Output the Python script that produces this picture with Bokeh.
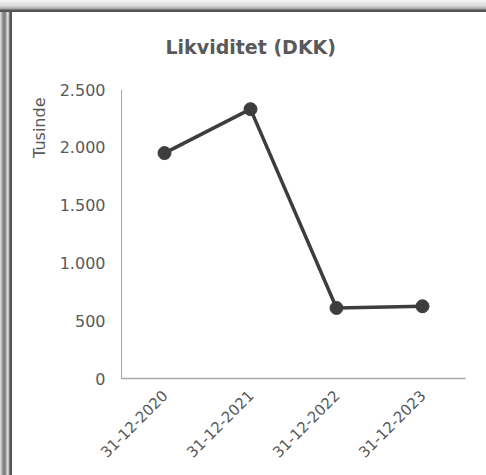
from math import pi
from bokeh.plotting import figure
from bokeh.models import Title, FactorRange, Range1d, CustomJSTickFormatter, FixedTicker
from bokeh.embed import file_html
from bokeh.resources import INLINE

# ---- data ----
categories = ["31-12-2020", "31-12-2021", "31-12-2022", "31-12-2023"]
values = [1950, 2330, 610, 625]
y_ticks = [0, 500, 1000, 1500, 2000, 2500]
title_text = "Likviditet (DKK)"
unit_label = "Tusinde"

FONT = "DejaVu Sans"
DARK = "#3d3d3d"
GREY = "#595959"

p = figure(
    width=486, height=475,
    x_range=FactorRange(*categories, range_padding=0),
    y_range=Range1d(0, 2500),
    output_backend="svg", toolbar_location=None,
    min_border_left=121, min_border_right=21, min_border_top=89, min_border_bottom=97,
)
p.styles = {
    "background-color": "white",
    "background-image": (
        "linear-gradient(to bottom, #f6f6f6 0px, #d9d9d9 6px, #a0a0a0 9px, #555 10px, #555 12px, rgba(255,255,255,0) 12px),"
        "linear-gradient(to right, #e8e8e8 0px, #8a8a8a 3px, #7a7a7a 5px, #cfcfcf 7px, #e6e6e6 8px, #555 10px, #555 12px, rgba(255,255,255,0) 12px)"
    ),
    "background-size": "100% 12px, 13px 100%",
    "background-repeat": "no-repeat",
}
p.border_fill_alpha = 0
p.background_fill_alpha = 0
p.outline_line_color = None
p.grid.visible = False

# title
p.title = Title(text=title_text, align="left", offset=44, standoff=64,
                text_font=FONT, text_font_size="19px", text_font_style="bold", text_color=GREY)

# unit label as a left-side title near the top
p.add_layout(Title(text=unit_label, align="right", offset=8, standoff=16,
                   text_font=FONT, text_font_size="16px", text_font_style="normal", text_color=GREY), "left")

# axes
p.yaxis.ticker = FixedTicker(ticks=y_ticks)
p.yaxis.formatter = CustomJSTickFormatter(code="return tick.toString().replace(/\\B(?=(\\d{3})+(?!\\d))/g, '.');")
p.yaxis.axis_line_color = "#a6a6a6"
p.yaxis.axis_line_width = 1
p.yaxis.major_tick_line_color = None
p.yaxis.minor_tick_line_color = None
p.yaxis.major_label_standoff = 10
p.yaxis.major_label_text_font = FONT
p.yaxis.major_label_text_font_size = "16px"
p.yaxis.major_label_text_color = GREY

p.xaxis.axis_line_color = "#a6a6a6"
p.xaxis.axis_line_width = 1.5
p.xaxis.major_tick_line_color = None
p.xaxis.minor_tick_line_color = None
p.xaxis.major_label_orientation = pi / 4
p.xaxis.major_label_standoff = 8
p.xaxis.major_label_text_font = FONT
p.xaxis.major_label_text_font_size = "15px"
p.xaxis.major_label_text_color = GREY

# series
p.line(categories, values, line_color=DARK, line_width=3.5)
p.scatter(categories, values, size=13, fill_color=DARK, line_color=DARK)

open("out.html", "w").write(file_html(p, INLINE))
